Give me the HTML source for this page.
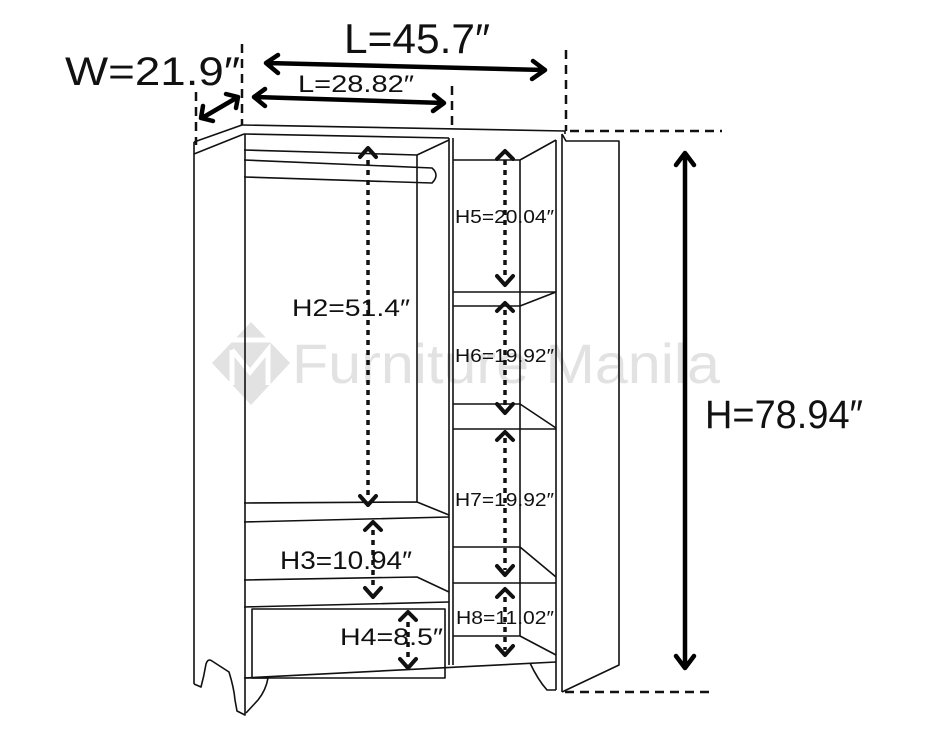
<!DOCTYPE html>
<html><head><meta charset="utf-8"><style>
html,body{margin:0;padding:0;background:#fff;width:940px;height:730px;overflow:hidden}
svg{display:block}
text{font-family:"Liberation Sans",sans-serif;fill:#111}
</style></head><body>
<svg width="940" height="730" viewBox="0 0 940 730" xmlns="http://www.w3.org/2000/svg">
<!-- watermark -->
<g fill="#e2e2e2">
<polygon points="251,322 290,363 251,405 212,363"/>
</g>
<g stroke="#fff" stroke-width="5" fill="none"><path d="M232,350 L232,385 M232,350 L250,372 L268,350 L268,385 M226,340 L275,340"/></g>
<text x="292" y="383" font-size="56" textLength="428" lengthAdjust="spacingAndGlyphs" style="fill:#e2e2e2">Furniture Manila</text>

<g stroke="#111" stroke-width="1.6" fill="none" stroke-linejoin="round">
<path d="M194,142 L242,125 M194,154 L244,134 M194,142 L194,684"/>
<path d="M194,684 L201,687 Q204,676 206,664 Q208,658 212,661 L229,672 Q234,688 235,700 L237,711 L245,715 L245,134"/>
<path d="M242,125 L565,131 L565,134 M244,134 L449,138"/>
<path d="M245,678 L268,678 Q266,690 258,700 L246,713"/>
<path d="M244,150 L417,155 L449,140 M417,155 L417,502"/>
<path d="M244,160 L432,168 Q440,175 432,183 L244,177"/>
<path d="M244,503 L417,502 L449,515 M244,522 L449,517"/>
<path d="M244,580 L417,577 L449,592 M244,607 L449,602"/>
<rect x="252" y="609" width="193" height="69"/>
<path d="M244,678 L556,662"/>
<path d="M449,138 L449,665 M453,138 L453,665"/>
<path d="M453,160 L520,160 L556,140 M520,160 L520,636"/>
<path d="M453,292 L556,292 M453,306 L520,306 L556,292"/>
<path d="M453,404 L520,404 L556,428 M453,429 L556,429"/>
<path d="M453,547 L520,547 L556,577 M453,583 L556,583"/>
<path d="M453,636 L520,636 L556,655"/>
<path d="M556,140 L556,690 M562,134 L562,692"/>
<path d="M562,134 L566,141 L619,141 L619,665 L562,692"/>
<path d="M530,663 Q538,680 547,690 L556,690"/>
</g>

<g stroke="#111" stroke-width="2.5" stroke-dasharray="9,6" fill="none">
<path d="M196,92 L196,145 M242,44 L242,125 M452,86 L452,130 M566,50 L566,131"/>
<path d="M570,131 L722,131 M565,692 L715,692"/>
</g>

<g stroke="#000" stroke-width="4.5" fill="none" stroke-linecap="round" stroke-linejoin="round">
<path d="M267,63 L545,70 M278,55 L266,63 L278,73 M533,61 L545,70 L532,79"/>
<path d="M255,97 L444,103 M265,89 L254,97 L265,106 M434,95 L444,103 L433,111"/>
<path d="M202,118 L238,97 M203,106 L201,118 L213,121 M226,94 L238,97 L236,108"/>
<path d="M685,154 L685,667 M676,165 L685,153 L694,165 M676,656 L685,668 L694,656"/>
</g>

<g stroke="#111" stroke-width="3.5" fill="none">
<g stroke-dasharray="5,5">
<path d="M368,160 L368,495 M373,530 L373,590 M408,622 L408,662 M505,160 L505,278 M505,310 L505,408 M505,438 L505,570 M505,597 L505,650"/>
</g>
<g stroke-linecap="round" stroke-linejoin="round" stroke-width="4">
<path d="M360,157 L368,148 L376,157 M360,496 L368,505 L376,496"/>
<path d="M365,530 L373,522 L381,530 M365,588 L373,597 L381,588"/>
<path d="M400,620 L408,612 L416,620 M400,659 L408,668 L416,659"/>
<path d="M497,159 L505,151 L513,159 M497,276 L505,285 L513,276"/>
<path d="M497,311 L505,303 L513,311 M497,404 L505,413 L513,404"/>
<path d="M497,440 L505,432 L513,440 M497,566 L505,575 L513,566"/>
<path d="M497,597 L505,589 L513,597 M497,646 L505,655 L513,646"/>
</g>
</g>

<text x="65" y="85" font-size="40" textLength="175" lengthAdjust="spacingAndGlyphs">W=21.9″</text>
<text x="344" y="53" font-size="42" textLength="146" lengthAdjust="spacingAndGlyphs">L=45.7″</text>
<text x="298" y="92" font-size="24" textLength="116" lengthAdjust="spacingAndGlyphs">L=28.82″</text>
<text x="705" y="428" font-size="40" textLength="158" lengthAdjust="spacingAndGlyphs">H=78.94″</text>
<text x="292" y="316" font-size="24" textLength="118" lengthAdjust="spacingAndGlyphs">H2=51.4″</text>
<text x="280" y="569" font-size="25" textLength="132" lengthAdjust="spacingAndGlyphs">H3=10.94″</text>
<text x="340" y="645" font-size="24" textLength="103" lengthAdjust="spacingAndGlyphs">H4=8.5″</text>
<text x="455" y="223" font-size="18" textLength="99" lengthAdjust="spacingAndGlyphs">H5=20.04″</text>
<text x="455" y="362" font-size="18" textLength="99" lengthAdjust="spacingAndGlyphs">H6=19.92″</text>
<text x="455" y="506" font-size="18" textLength="99" lengthAdjust="spacingAndGlyphs">H7=19.92″</text>
<text x="456" y="624" font-size="18" textLength="98" lengthAdjust="spacingAndGlyphs">H8=11.02″</text>
</svg>
</body></html>
